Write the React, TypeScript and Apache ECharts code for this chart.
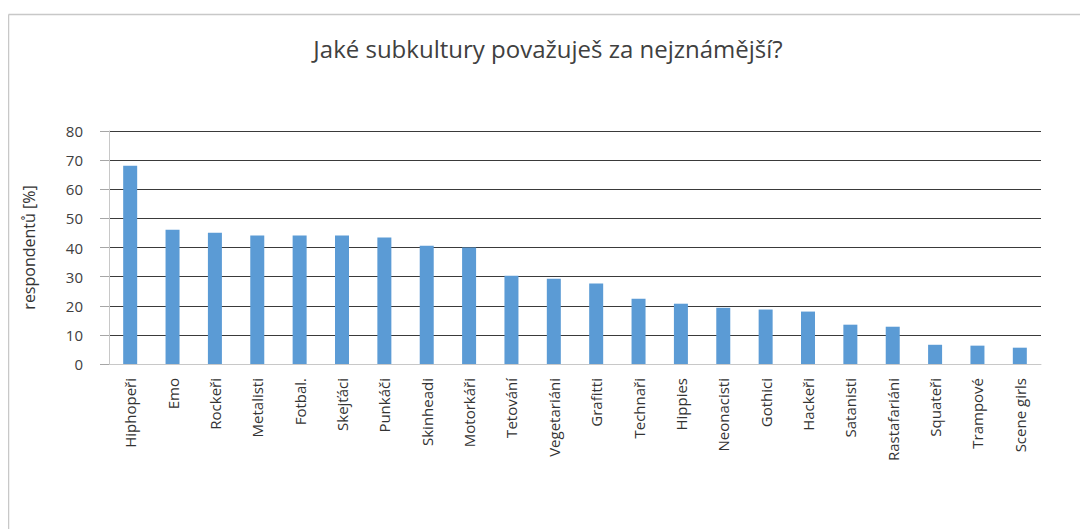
import React, { useEffect, useRef } from "react";
import * as echarts from "echarts";

const titleText = "Jaké subkultury považuješ za nejznámější?";
const yAxisName = "respondentů [%]";
const categories = [
  "Hiphopeři", "Emo", "Rockeři", "Metalisti", "Fotbal.", "Skejťáci", "Punkáči",
  "Skinheadi", "Motorkáři", "Tetování", "Vegetariáni", "Grafitti", "Technaři",
  "Hippies", "Neonacisti", "Gothici", "Hackeři", "Satanisti", "Rastafariáni",
  "Squateři", "Trampové", "Scene girls",
];
const values = [
  68.1, 46.1, 45.1, 44.1, 44.1, 44.1, 43.4, 40.6, 40.0, 30.3, 29.3, 27.6, 22.4,
  20.7, 19.3, 18.7, 18.0, 13.5, 12.8, 6.6, 6.3, 5.6,
];
const yMin = 0;
const yMax = 80;
const yStep = 10;

export default function App() {
  const ref = useRef<HTMLDivElement>(null);
  useEffect(() => {
    if (!ref.current) return;
    const chart = echarts.init(ref.current, null, { renderer: "svg" });
    const font = "'Open Sans', 'Liberation Sans', sans-serif";
    chart.setOption({
      animation: false,
      backgroundColor: "#ffffff",
      textStyle: { fontFamily: font },
      title: {
        text: titleText,
        left: "center",
        top: 23,
        textStyle: { fontFamily: font, fontSize: 24, fontWeight: "normal", color: "#404040" },
      },
      graphic: [
        { type: "line", shape: { x1: 0.5, y1: 6.5, x2: 1080, y2: 6.5 }, style: { stroke: "#c8c8c8", lineWidth: 1.5 } },
        { type: "line", shape: { x1: 0.5, y1: 6.5, x2: 0.5, y2: 521 }, style: { stroke: "#c8c8c8", lineWidth: 1.5 } },
      ],
      grid: { left: 101, right: 47, top: 123, bottom: 165, containLabel: false },
      xAxis: {
        type: "category",
        data: categories,
        axisLine: { show: true, lineStyle: { color: "#c8c8c8", width: 1 } },
        axisTick: { show: false },
        axisLabel: {
          interval: 0,
          rotate: 90,
          margin: 14,
          fontSize: 15,
          color: "#333333",
          fontFamily: font,
        },
      },
      yAxis: {
        type: "value",
        min: yMin,
        max: yMax,
        interval: yStep,
        name: yAxisName,
        nameLocation: "middle",
        nameGap: 72,
        nameRotate: 90,
        nameTextStyle: { fontSize: 16, color: "#333333", fontFamily: font },
        axisLine: { show: true, lineStyle: { color: "#c8c8c8", width: 1 } },
        axisTick: { show: true, length: 9, lineStyle: { color: "#a6a6a6" } },
        axisLabel: { margin: 26, fontSize: 15, color: "#404040", fontFamily: font },
        splitLine: { show: true, lineStyle: { color: "#3a3a3a", width: 1 } },
      },
      series: [
        {
          type: "bar",
          data: values,
          barWidth: 14,
          itemStyle: { color: "#5b9bd5" },
        },
      ],
    });
    return () => chart.dispose();
  }, []);
  return <div ref={ref} style={{ width: 1080, height: 521 }} />;
}
